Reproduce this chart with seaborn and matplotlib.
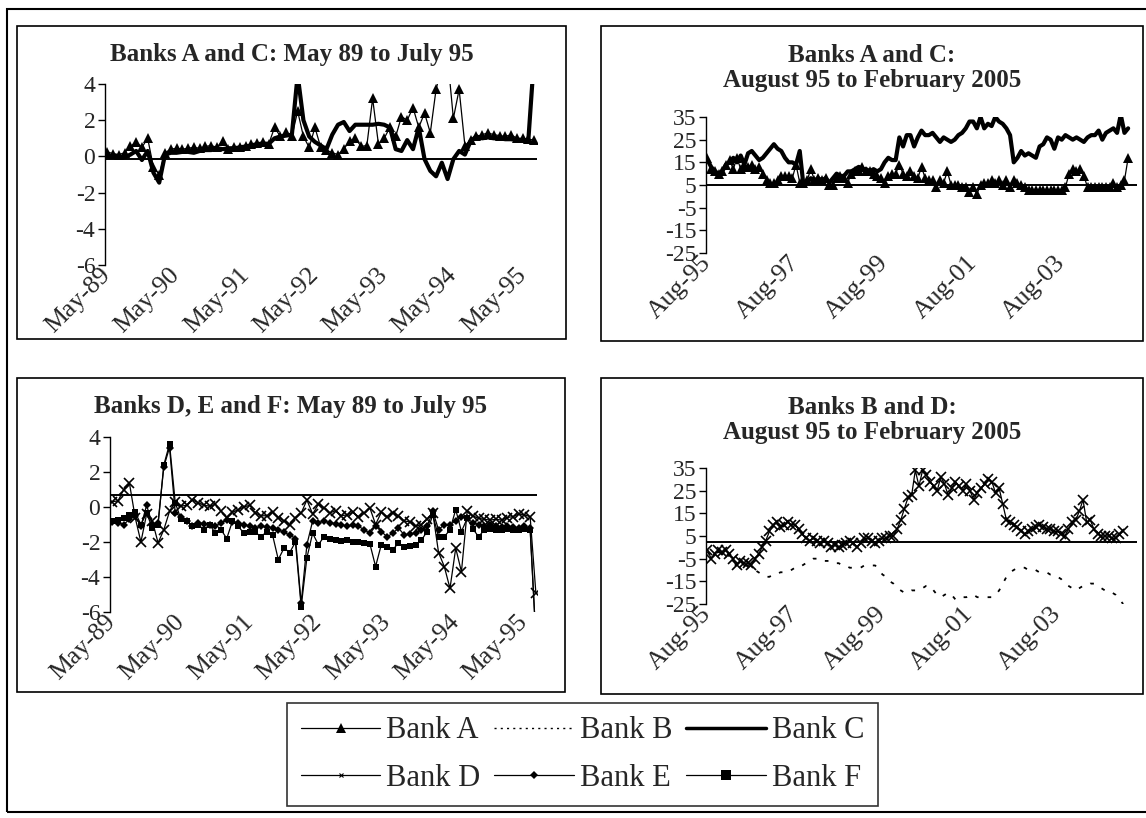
import numpy as np
import pandas as pd
import matplotlib
matplotlib.use("Agg")
import matplotlib.pyplot as plt
import matplotlib.transforms as mtransforms
import seaborn as sns
from matplotlib.patches import Rectangle
from matplotlib.lines import Line2D

sns.set_theme(style="white")
plt.rcParams["font.family"] = ["Liberation Serif", "DejaVu Serif"]

# ---- data: May 89 to July 95 (75 months) ----
early_ticks = ["May-89", "May-90", "May-91", "May-92", "May-93", "May-94", "May-95"]

bank_a_early = [0.25, 0.15, 0.1, 0.2, 0.55, 0.8, 0.5, 1.0, -0.6, -1.0,
                0.2, 0.4, 0.45, 0.4, 0.45, 0.5, 0.45, 0.55, 0.6, 0.5,
                0.85, 0.4, 0.5, 0.5, 0.6, 0.7, 0.75, 0.8, 0.7, 1.6,
                1.1, 1.35, 1.1, 2.5, 1.1, 0.5, 1.6, 0.5, 0.35, 0.2,
                0.1, 0.4, 0.85, 1.0, 0.55, 0.6, 3.2, 0.7, 1.0, 1.6,
                1.1, 2.2, 2.0, 2.7, 1.6, 2.4, 1.3, 3.7, 5.0, 5.5,
                2.1, 3.7, 0.6, 0.9, 1.1, 1.2, 1.3, 1.2, 1.15, 1.1,
                1.2, 1.0, 1.0, 0.95, 0.9]
bank_c_early = [0.0, 0.05, 0.0, -0.05, 0.1, 0.3, -0.2, 0.3, -0.9, -1.45,
                0.1, 0.2, 0.2, 0.25, 0.25, 0.2, 0.3, 0.35, 0.35, 0.45,
                0.4, 0.45, 0.45, 0.5, 0.55, 0.6, 0.65, 0.7, 0.7, 1.0,
                1.1, 1.15, 1.2, 4.5, 2.0, 1.1, 0.8, 0.6, 0.4, 1.2,
                1.75, 1.9, 1.4, 1.75, 1.75, 1.75, 1.75, 1.8, 1.75, 1.6,
                0.4, 0.3, 0.9, 0.4, 1.6, -0.15, -0.8, -1.1, -0.35, -1.25,
                -0.15, 0.3, 0.1, 0.85, 1.1, 1.0, 1.05, 1.0, 1.0, 0.95,
                0.95, 0.9, 0.9, 0.9, 5.5]
bank_d_early = [0.3, 0.35, 1.0, 1.35, -0.6, -2.0, -0.4, -0.8, -2.05, -1.3,
                -0.25, 0.3, 0.05, 0.1, 0.4, 0.25, 0.1, 0.05, 0.15, -0.25,
                -0.6, -0.3, -0.15, 0.0, 0.1, -0.35, -0.5, -0.5, -0.3, -0.6,
                -0.8, -1.0, -0.6, -0.35, 0.4, -0.4, 0.15, -0.05, -0.35, -0.2,
                -0.5, -0.45, -0.3, -0.55, -0.35, -0.05, -1.0, -0.3, -0.55, -0.35,
                -0.5, -0.8, -0.85, -1.1, -1.0, -0.7, -0.35, -2.6, -3.4, -4.65,
                -2.35, -3.7, -0.25, -0.5, -0.65, -0.7, -0.75, -0.7, -0.75, -0.6,
                -0.55, -0.4, -0.45, -0.55, -4.9]
bank_e_early = [-0.85, -0.9, -1.0, -0.7, -0.5, -1.1, 0.1, -1.0, -0.9, 2.3,
                3.4, -0.35, -0.55, -0.8, -1.1, -0.9, -0.95, -1.0, -1.1, -0.9,
                -0.75, -0.85, -0.9, -1.0, -1.1, -1.2, -1.1, -1.15, -1.2, -1.3,
                -1.45, -1.6, -1.8, -5.5, -2.15, -0.8, -0.9, -0.8, -0.9, -0.95,
                -1.0, -1.1, -1.05, -1.1, -1.3, -1.5, -1.1, -1.4, -1.7, -1.5,
                -1.2, -1.6, -1.55, -1.5, -1.3, -1.1, -0.25, -1.3, -1.0, -1.0,
                -0.8, -0.55, -0.65, -0.9, -1.0, -1.1, -1.05, -1.1, -1.15, -1.1,
                -1.15, -1.2, -1.1, -1.2, -7.5]
bank_f_early = [-0.8, -0.75, -0.6, -0.45, -0.3, -1.0, -0.35, -1.2, -1.0, 2.4,
                3.6, 0.25, -0.7, -0.8, -1.1, -1.0, -1.3, -1.0, -1.5, -1.3,
                -1.8, -0.8, -1.1, -1.5, -1.4, -1.45, -1.7, -1.4, -1.6, -3.0,
                -2.35, -2.6, -2.0, -5.7, -2.9, -1.5, -2.15, -1.7, -1.8, -1.9,
                -1.95, -1.9, -2.0, -2.0, -2.05, -2.1, -3.4, -2.15, -2.3, -2.45,
                -2.05, -2.3, -2.2, -2.15, -1.9, -1.4, -0.45, -1.7, -1.7, -1.3,
                -0.15, -1.4, -0.65, -1.25, -1.7, -1.3, -1.25, -1.3, -1.3, -1.25,
                -1.3, -1.3, -1.25, -1.3, -7.5]

# ---- data: August 95 to February 2005 (115 months) ----
late_ticks = ["Aug-95", "Aug-97", "Aug-99", "Aug-01", "Aug-03"]

bank_a_late = [17, 12, 11, 10, 11, 14, 16, 12, 17, 12,
               14, 13, 14, 12, 13, 10, 7, 6, 6, 7,
               9, 9, 9, 8, 14, 6, 6, 7, 12, 7,
               8, 7, 8, 5, 5, 8, 9, 8, 6, 10,
               11, 11, 13, 11, 11, 10, 9, 8, 6, 9,
               10, 10, 14, 10, 9, 11, 9, 8, 13, 8,
               7, 7, 4, 7, 6, 11, 5, 5, 5, 4,
               4, 2, 4, 1, 5, 6, 6, 7, 6, 7,
               5, 7, 4, 7, 6, 5, 4, 3, 3, 3,
               3, 3, 3, 3, 3, 3, 3, 4, 10, 12,
               11, 12, 9, 4, 4, 4, 4, 4, 4, 4,
               6, 4, 5, 7, 17]
bank_c_late = [16, 13, 11, 10, 11, 14, 15, 17, 15, 18,
               14, 19, 20, 18, 16, 17, 19, 21, 23, 21,
               20, 17, 15, 15, 14, 20, 5, 6, 8, 7,
               8, 7, 8, 6, 8, 10, 9, 9, 11, 11,
               12, 13, 12, 12, 11, 12, 11, 12, 15, 17,
               16, 16, 26, 22, 27, 27, 22, 26, 29, 27,
               27, 28, 26, 24, 26, 25, 24, 25, 27, 28,
               30, 33, 33, 30, 35, 30, 32, 31, 35, 33,
               32, 30, 27, 15, 17, 20, 18, 19, 18, 17,
               22, 23, 26, 25, 21, 26, 25, 27, 26, 25,
               26, 25, 24, 26, 27, 27, 29, 25, 28, 29,
               30, 28, 36, 28, 30]
bank_b_late = [-2, -4, -3, -2, -3, -2, -4, -6, -8, -7,
               -8, -8, -9, -10, -11, -12, -13, -13, -12, -12,
               -11, -11, -11, -10, -9, -9, -8, -7, -6, -5,
               -5, -5, -6, -6, -6, -7, -7, -8, -8, -9,
               -9, -9, -9, -8, -8, -8, -8, -10, -12, -13,
               -15, -16, -18, -19, -20, -20, -19, -19, -19, -18,
               -17, -17, -19, -21, -22, -21, -20, -21, -23, -23,
               -22, -22, -21, -21, -22, -22, -22, -22, -22, -21,
               -19, -16, -13, -11, -10, -9, -9, -9, -10, -10,
               -10, -11, -11, -11, -12, -12, -13, -14, -16, -17,
               -18, -19, -18, -17, -17, -16, -16, -17, -18, -19,
               -20, -20, -21, -23, -25]
bank_d_late = [-1, -5, -3, -1, -2, -1, -3, -5, -8, -6,
               -7, -7, -8, -5, -3, 0, 3, 7, 10, 11,
               9, 10, 11, 10, 10, 8, 6, 4, 3, 4,
               3, 2, 3, 2, 0, 1, 0, 1, 2, 3,
               2, 0, 2, 4, 4, 3, 2, 3, 4, 4,
               5, 5, 8, 12, 17, 22, 23, 34, 27, 34,
               32, 29, 27, 25, 31, 28, 23, 26, 29, 27,
               25, 28, 25, 21, 24, 26, 28, 30, 29, 24,
               26, 19, 12, 11, 10, 9, 7, 6, 7, 8,
               9, 10, 9, 8, 8, 7, 7, 6, 5, 8,
               11, 12, 16, 21, 11, 12, 8, 6, 5, 5,
               5, 4, 4, 6, 7]

early = pd.DataFrame({"t": np.arange(len(bank_a_early)),
                      "Bank A": bank_a_early, "Bank C": bank_c_early,
                      "Bank D": bank_d_early, "Bank E": bank_e_early,
                      "Bank F": bank_f_early})
late = pd.DataFrame({"t": np.arange(len(bank_a_late)),
                     "Bank A": bank_a_late, "Bank B": bank_b_late,
                     "Bank C": bank_c_late, "Bank D": bank_d_late})

W, H = 1146, 818
fig = plt.figure(figsize=(W / 100, H / 100), dpi=100)


def fbox(x0, y0, x1, y1):
    # pixel box (top-left origin) -> figure fraction rect
    return [x0 / W, 1 - y1 / H, (x1 - x0) / W, (y1 - y0) / H]


styles = {
    "Bank A": dict(linewidth=0.9, marker="^", markersize=6.5, markeredgewidth=0),
    "Bank B": dict(linewidth=1.3, linestyle=(0, (2, 5))),
    "Bank C": dict(linewidth=3.0),
    "Bank D": dict(linewidth=0.9, marker="x", markersize=7, markeredgewidth=1.2,
                   markeredgecolor="black"),
    "Bank E": dict(linewidth=0.9, marker="D", markersize=4.5, markeredgewidth=0),
    "Bank F": dict(linewidth=0.9, marker="s", markersize=5, markeredgewidth=0),
}

# Excel-like shift of the rotated category labels
label_shift = mtransforms.ScaledTranslation(-0.08, 0, fig.dpi_scale_trans)


def panel(rect, df, banks, ylim, yticks, cross, ticklabels, step, xmax, title, box):
    fig.add_artist(Rectangle((box[0] / W, 1 - box[3] / H), (box[2] - box[0]) / W,
                             (box[3] - box[1]) / H, transform=fig.transFigure,
                             fill=False, ec="black", lw=1.2))
    fig.text((box[0] + box[2]) / 2 / W, 1 - title[1] / H, title[0], ha="center",
             va="center", fontsize=18, fontweight="bold", linespacing=1.12)
    ax = fig.add_axes(fbox(*rect))
    for b in banks:
        sns.lineplot(data=df, x="t", y=b, ax=ax, color="black", **styles[b])
    ax.axhline(cross, color="black", lw=1.4)
    ax.set_ylim(*ylim)
    ax.set_xlim(-0.4, xmax)
    ax.set_yticks(yticks)
    ax.set_yticklabels([str(v) for v in yticks], fontsize=17)
    ax.set_xticks(df["t"].values[::step][:len(ticklabels)])
    ax.set_xticklabels(ticklabels, rotation=45, ha="right", va="center",
                       rotation_mode="anchor", fontsize=18.5)
    for lab in ax.get_xticklabels():
        lab.set_transform(lab.get_transform() + label_shift)
    ax.tick_params(axis="y", length=5, width=1, color="black", pad=2, left=True)
    ax.tick_params(axis="x", length=0, pad=5)
    for s in ["top", "right", "bottom"]:
        ax.spines[s].set_visible(False)
    ax.spines["left"].set_color("black")
    ax.spines["left"].set_linewidth(1)
    ax.set_xlabel("")
    ax.set_ylabel("")
    ax.set_facecolor("none")
    return ax


# outer frame
fig.add_artist(Rectangle((7 / W, 1 - 812 / H), (1150 - 7) / W, (812 - 9) / H,
                         transform=fig.transFigure, fill=False, ec="black", lw=1.5))

panel((105, 84, 537, 265), early, ["Bank A", "Bank C"], (-6, 4), [-6, -4, -2, 0, 2, 4],
      -0.15, early_ticks, 12, 74.5, ("Banks A and C: May 89 to July 95", 55),
      (17, 26, 566, 339))
panel((706, 117, 1137, 253), late, ["Bank A", "Bank C"], (-25, 35),
      [-25, -15, -5, 5, 15, 25, 35], 5, late_ticks, 24, 116.4,
      ("Banks A and C:\nAugust 95 to February 2005", 68), (601, 26, 1143, 341))
panel((110, 437, 537, 612), early, ["Bank D", "Bank E", "Bank F"], (-6, 4),
      [-6, -4, -2, 0, 2, 4], 0.7, early_ticks, 12, 74.2,
      ("Banks D, E and F: May 89 to July 95", 407), (17, 378, 565, 692))
panel((706, 468, 1137, 604), late, ["Bank B", "Bank D"], (-25, 35),
      [-25, -15, -5, 5, 15, 25, 35], 2.3, late_ticks, 24, 117.8,
      ("Banks B and D:\nAugust 95 to February 2005", 420), (601, 378, 1143, 694))

handles = [
    Line2D([], [], color="black", lw=0.9, marker="^", ms=6.5, mew=0),
    Line2D([], [], color="black", lw=0.9, marker="x", ms=3.5, mew=0.8),
    Line2D([], [], color="black", lw=1.0, ls=(0, (1.5, 3))),
    Line2D([], [], color="black", lw=0.9, marker="D", ms=4.5, mew=0),
    Line2D([], [], color="black", lw=2.5),
    Line2D([], [], color="black", lw=0.9, marker="s", ms=6.5, mew=0),
]
labels = ["Bank A", "Bank D", "Bank B", "Bank E", "Bank C", "Bank F"]
leg = fig.legend(handles, labels, ncol=3, loc="center",
                 bbox_to_anchor=(582.5 / W, 1 - 754.5 / H), fontsize=22,
                 frameon=True, fancybox=False, edgecolor="black",
                 handlelength=2.6, handletextpad=0.2, columnspacing=0.45,
                 labelspacing=0.6, borderpad=0.45)
leg.get_frame().set_linewidth(1.2)

fig.savefig("out.png", dpi=100)
